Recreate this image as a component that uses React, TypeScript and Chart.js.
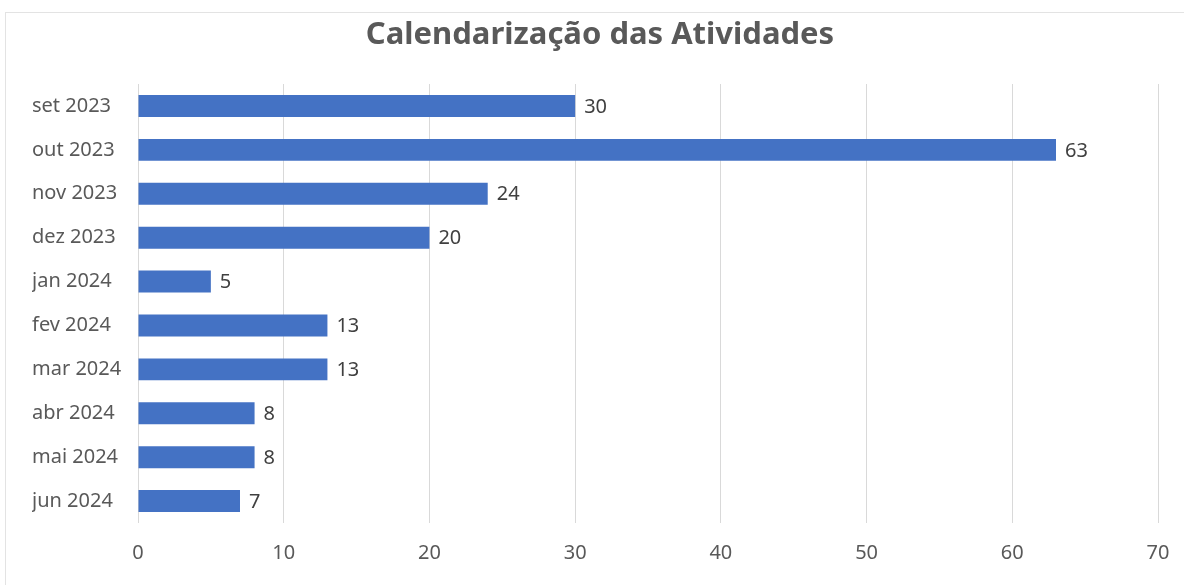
import React, { useEffect, useRef } from "react";
import { Chart, registerables } from "chart.js";

Chart.register(...registerables);

const categories = [
  "set 2023", "out 2023", "nov 2023", "dez 2023", "jan 2024",
  "fev 2024", "mar 2024", "abr 2024", "mai 2024", "jun 2024",
];
const values = [30, 63, 24, 20, 5, 13, 13, 8, 8, 7];
const xTicks = [0, 10, 20, 30, 40, 50, 60, 70];
const titleText = "Calendarização das Atividades";

const FONT = "'Noto Sans', 'Open Sans', sans-serif";

const valueLabels = {
  id: "valueLabels",
  afterDatasetsDraw(chart: any) {
    const ctx = chart.ctx;
    const meta = chart.getDatasetMeta(0);
    ctx.save();
    ctx.font = `20px ${FONT}`;
    ctx.fillStyle = "#404040";
    ctx.textAlign = "left";
    ctx.textBaseline = "middle";
    meta.data.forEach((bar: any, i: number) => {
      ctx.fillText(String(values[i]), bar.x + 9, bar.y + 1);
    });
    ctx.restore();
  },
};

const centeredTitle = {
  id: "centeredTitle",
  afterDraw(chart: any) {
    const ctx = chart.ctx;
    ctx.save();
    ctx.font = `bold 31px ${FONT}`;
    ctx.fillStyle = "#595959";
    ctx.textAlign = "center";
    ctx.textBaseline = "middle";
    ctx.fillText(titleText, 600, 35);
    ctx.restore();
  },
};

export default function App() {
  const ref = useRef<HTMLCanvasElement>(null);
  useEffect(() => {
    if (!ref.current) return;
    const chart = new Chart(ref.current, {
      type: "bar",
      data: {
        labels: categories,
        datasets: [
          {
            data: values,
            backgroundColor: "#4472C4",
            borderWidth: 0,
            barPercentage: 0.5,
            categoryPercentage: 1,
          },
        ],
      },
      options: {
        indexAxis: "y",
        animation: false,
        responsive: false,
        maintainAspectRatio: false,
        layout: { padding: { left: 32, right: 26, top: 84, bottom: 0 } },
        plugins: {
          legend: { display: false },
          tooltip: { enabled: false },
          title: { display: false },
        },
        scales: {
          x: {
            min: 0,
            max: 70,
            afterBuildTicks: (s: any) => {
              s.ticks = xTicks.map((v) => ({ value: v }));
            },
            afterFit: (s: any) => {
              s.height = 62;
              s.paddingLeft = 0;
              s.paddingRight = 0;
            },
            grid: { color: "#d9d9d9", lineWidth: 1, drawTicks: false },
            border: { display: false },
            ticks: {
              color: "#595959",
              font: { family: FONT, size: 20 },
              padding: 18,
            },
          },
          y: {
            afterFit: (s: any) => {
              s.width = 106;
            },
            grid: { display: false },
            border: { display: false },
            ticks: {
              crossAlign: "far",
              color: "#595959",
              font: { family: FONT, size: 20 },
              padding: 8,
            },
          },
        },
      },
      plugins: [valueLabels, centeredTitle],
    });
    return () => chart.destroy();
  }, []);

  return (
    <div
      style={{
        position: "fixed",
        left: 0,
        top: 0,
        width: 1184,
        height: 585,
        overflow: "hidden",
        background: "#ffffff",
      }}
    >
      <div
        style={{
          position: "absolute",
          left: 5,
          top: 12,
          width: 1300,
          height: 700,
          border: "1px solid #e3e3e3",
          boxSizing: "border-box",
        }}
      />
      <canvas
        ref={ref}
        width={1184}
        height={585}
        style={{ position: "absolute", left: 0, top: 0, width: 1184, height: 585 }}
      />
    </div>
  );
}
